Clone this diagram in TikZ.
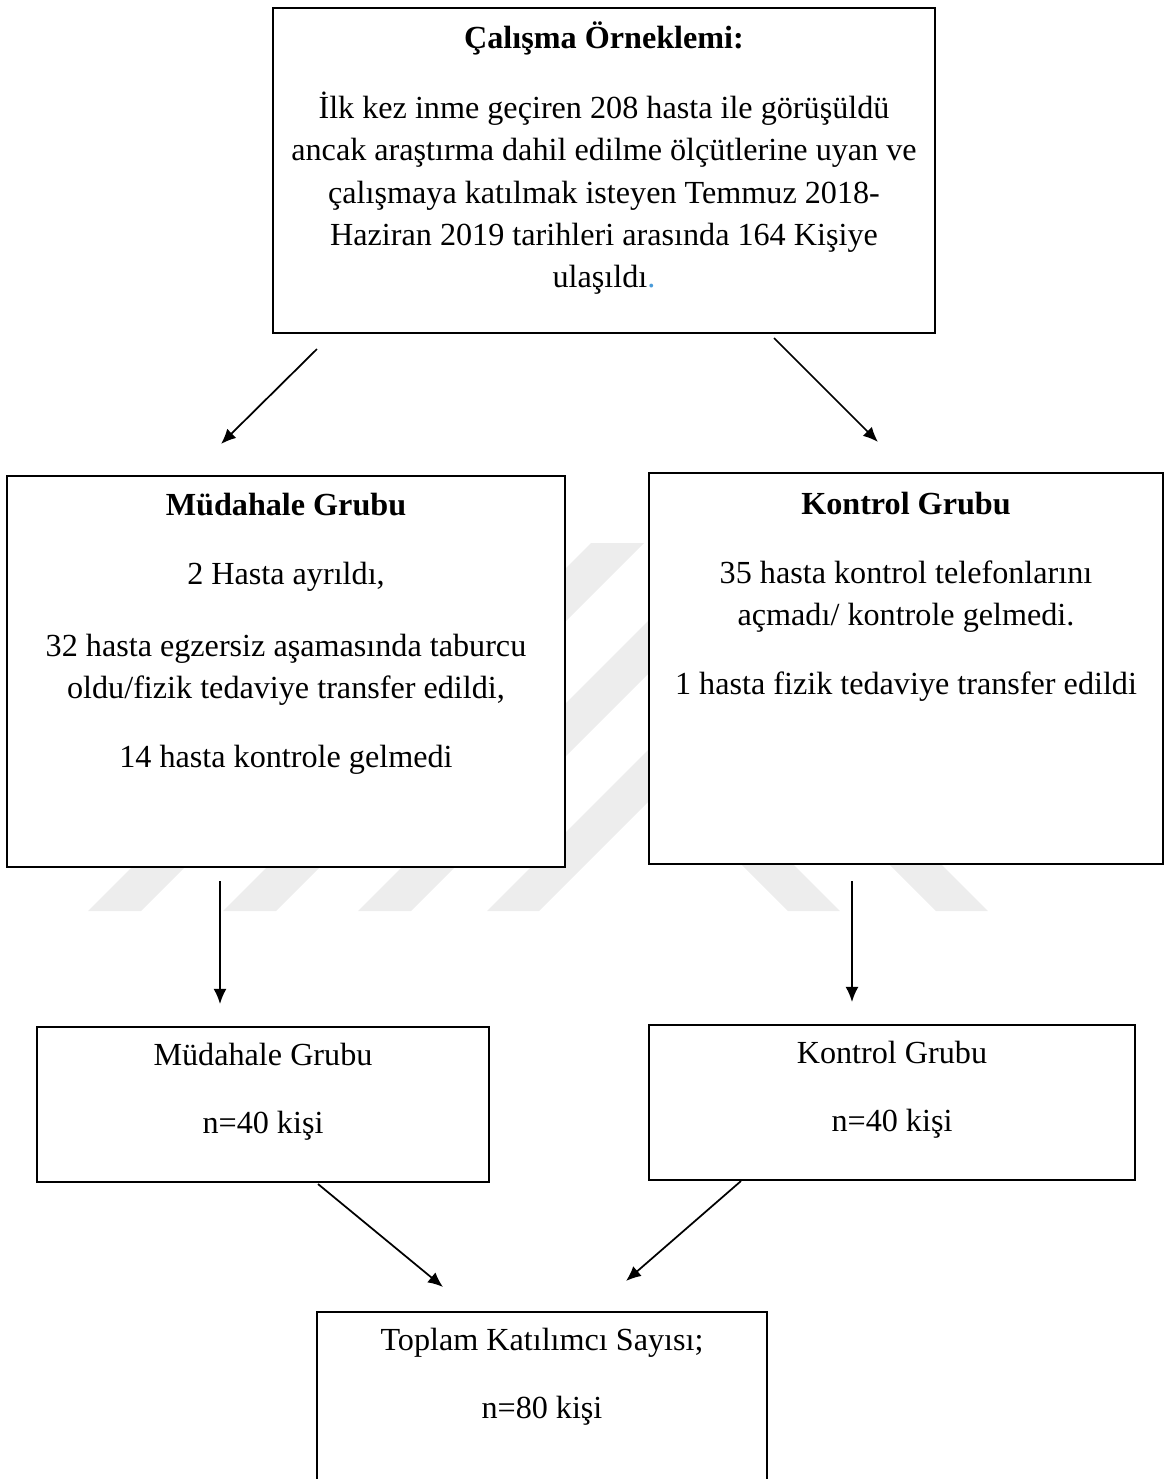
\documentclass[tikz,border=0pt]{standalone}
\usepackage{fontspec}
\setmainfont{Liberation Serif}
\usepackage{tikz}
\usetikzlibrary{calc,positioning,arrows.meta}
\definecolor{wmgray}{gray}{0.93}
\definecolor{dotblue}{HTML}{4A9BD9}
\newcommand{\px}{0.373pt}

\begin{document}
\begin{tikzpicture}[x=\px, y=-\px,
    box/.style={draw, line width=0.75pt, fill=white, inner sep=0pt},
    txt/.style={align=center, anchor=north, inner sep=0pt, font=\fontsize{12}{15.7}\selectfont},
    arr/.style={line width=0.65pt, -{Latex[length=5.6pt,width=4.8pt]}}]
    % Page
    \useasboundingbox (0,0) rectangle (1165,1479);
    \clip (0,0) rectangle (1165,1479);

    % Watermark stripes
    \fill[wmgray] (88,911) -- (141,911) -- (402,650) -- (349,650) -- cycle;
    \fill[wmgray] (223,911) -- (276,911) -- (644,543) -- (591,543) -- cycle;
    \fill[wmgray] (358,911) -- (411,911) -- (762,560) -- (709,560) -- cycle;
    \fill[wmgray] (487,911) -- (539,911) -- (830,620) -- (778,620) -- cycle;
    \fill[wmgray] (788,911) -- (840,911) -- (729,800) -- (677,800) -- cycle;
    \fill[wmgray] (936,911) -- (988,911) -- (877,800) -- (825,800) -- cycle;

    % Boxes
    \node[box, minimum width=662*\px, minimum height=325*\px] (orneklem) at (604,170.5) {};
    \node[box, minimum width=558*\px, minimum height=391*\px] (mudahale) at (286,671.5) {};
    \node[box, minimum width=514*\px, minimum height=391*\px] (kontrol) at (906,668.5) {};
    \node[box, minimum width=452*\px, minimum height=155*\px] (mudahaleN) at (263,1104.5) {};
    \node[box, minimum width=486*\px, minimum height=155*\px] (kontrolN) at (892,1102.5) {};
    \node[box, minimum width=450*\px, minimum height=200*\px] (toplam) at (542,1412) {};

    % Texts
    \node[txt] (orneklemTxt) at (604,21) {\textbf{Çalışma Örneklemi:}\\[10.6pt]
        İlk kez inme geçiren 208 hasta ile görüşüldü\\
        ancak araştırma dahil edilme ölçütlerine uyan ve\\
        çalışmaya katılmak isteyen Temmuz 2018-\\
        Haziran 2019 tarihleri arasında 164 Kişiye\\
        ulaşıldı{\color{dotblue}.}};
    \node[txt] (mudahaleTxt) at (286,493) {\textbf{Müdahale Grubu}\\[10pt]
        2 Hasta ayrıldı,\\[11pt]
        32 hasta egzersiz aşamasında taburcu\\
        oldu/fizik tedaviye transfer edildi,\\[10pt]
        14 hasta kontrole gelmedi};
    \node[txt] (kontrolTxt) at (906,492) {\textbf{Kontrol Grubu}\\[10pt]
        35 hasta kontrol telefonlarını\\
        açmadı/ kontrole gelmedi.\\[10pt]
        1 hasta fizik tedaviye transfer edildi};
    \node[txt] (mudahaleNTxt) at (263,1043) {Müdahale Grubu\\[9.6pt] n=40 kişi};
    \node[txt] (kontrolNTxt) at (892,1041) {Kontrol Grubu\\[9.6pt] n=40 kişi};
    \node[txt] (toplamTxt) at (542,1328) {Toplam Katılımcı Sayısı;\\[9.6pt] n=80 kişi};

    % Arrows
    \draw[arr] ([shift={(45,15)}]orneklem.south west) -- ([shift={(215,-31)}]mudahale.north west);
    \draw[arr] ([shift={(-162,4)}]orneklem.south east) -- ([shift={(230,-30)}]kontrol.north west);
    \draw[arr] ([shift={(-66,13)}]mudahale.south) -- ([shift={(-43,-22)}]mudahaleN.north);
    \draw[arr] ([shift={(-54,16)}]kontrol.south) -- ([shift={(-40,-22)}]kontrolN.north);
    \draw[arr] ([shift={(55,1)}]mudahaleN.south) -- ([shift={(-99,-24)}]toplam.north);
    \draw[arr] ([shift={(-151,0)}]kontrolN.south) -- ([shift={(84,-30)}]toplam.north);
\end{tikzpicture}
\end{document}
